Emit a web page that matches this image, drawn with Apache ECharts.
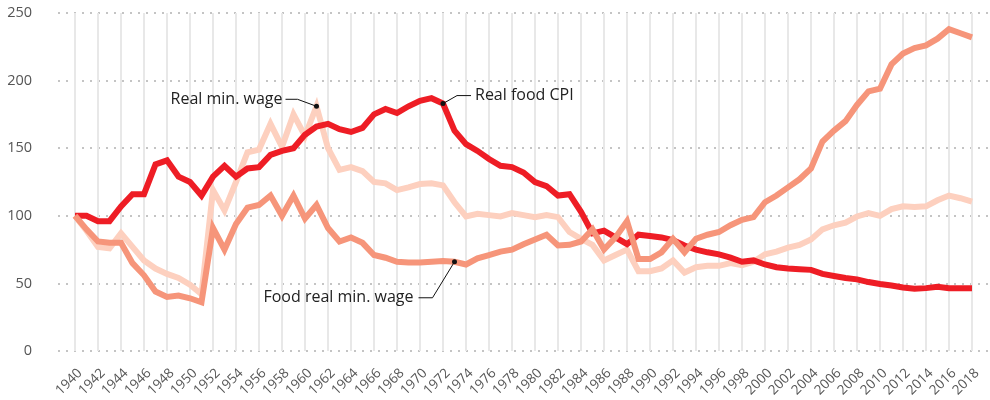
<!DOCTYPE html>
<html>
<head>
<meta charset="utf-8">
<script src="https://cdn.jsdelivr.net/npm/echarts@6/dist/echarts.min.js"></script>
<style>
  html, body { margin: 0; padding: 0; background: #fff; }
  #chart { width: 990px; height: 400px; }
</style>
</head>
<body>
<div id="chart"></div>
<script>
const firstYear = 1940;
const lastYear = 2018;

// values, one per year 1940..2018
const realFoodCpi = [
  100, 100, 96, 96, 107, 116, 116, 138, 141, 129,
  125, 115, 129, 137, 129, 135, 136, 145, 148, 150,
  160, 166, 168, 164, 162, 165, 175, 179, 176, 181,
  185, 187, 183, 163, 153, 148, 142, 137, 136, 132,
  125, 122, 115, 116, 103, 87, 89, 84, 79, 86,
  85, 84, 82, 78, 75, 73, 71.5, 69, 66, 67,
  64, 62, 61, 60.5, 60, 57, 55.5, 54, 53, 51,
  49.5, 48.5, 47, 46, 46.5, 47.5, 46.5, 46.5, 46.5
];
const foodMinWage = [
  100, 90, 81, 80, 80, 65, 56, 44, 40, 41,
  39, 36, 91, 75, 94, 106, 108, 115, 100, 115,
  98, 108, 91, 81, 84, 80, 71, 69, 66, 65.5,
  65.5, 66, 66.5, 66, 64, 68.5, 71, 73.5, 75, 79,
  82.5, 86, 78, 78.5, 81, 90, 75, 84, 96, 68,
  68, 73, 83, 73, 83, 86, 88, 93, 97, 99,
  110, 115, 121, 127, 135, 155, 163, 170, 182, 192,
  194, 212, 220, 224, 226, 231, 238, 235, 232
];
const realMinWage = [
  100, 89, 77, 76, 87, 77, 67, 61, 57, 54,
  49, 42, 119, 104, 125, 147, 149, 168, 151, 175,
  159, 181, 150, 134, 136, 133, 125, 124, 119, 121,
  123.5, 124, 122.5, 110, 99.5, 101.5, 100.5, 99.5, 102, 100.5,
  99, 100.5, 99, 88, 83, 78.5, 67, 71, 75, 59,
  59, 61, 67, 58, 62, 63, 63, 65, 63.5, 66,
  71.5, 73.5, 76.5, 78.5, 82.5, 90, 93, 95, 99.5, 102,
  100, 105, 107, 106.5, 107, 111.5, 115, 113, 110.5
];

const years = [];
for (let y = firstYear; y <= lastYear; y++) years.push(y);
const pairs = (vals) => vals.map((v, i) => [years[i], v]);

const chart = echarts.init(document.getElementById("chart"));

const lineSeries = (name, vals, color) => ({
  name,
  type: "line",
  xAxisIndex: 1,
  yAxisIndex: 1,
  data: pairs(vals),
  symbol: "none",
  lineStyle: { width: 6, color, join: "miter", miterLimit: 4 },
  emphasis: { disabled: true },
});

const option = {
  animation: false,
  grid: [
    { left: 58, right: 2, top: 13, bottom: 49 },
    { left: 75, right: 18, top: 13, bottom: 49 },
  ],
  xAxis: [
    { gridIndex: 0, type: "value", min: 1938.5, max: 2019.5, show: false },
    {
      gridIndex: 1,
      type: "value",
      min: firstYear,
      max: lastYear,
      interval: 2,
      axisLine: { show: false },
      axisTick: { show: false },
      splitLine: { show: true, lineStyle: { color: "#e8e8e8", width: 2 } },
      axisLabel: {
        rotate: 45,
        margin: 15,
        align: "right",
        verticalAlign: "top",
        fontSize: 13.5,
        fontFamily: "Open Sans",
        color: "#555",
        formatter: (v) => String(v),
      },
    },
  ],
  yAxis: [
    {
      gridIndex: 0,
      type: "value",
      min: 0,
      max: 250,
      interval: 50,
      axisLine: { show: false },
      axisTick: { show: false },
      axisLabel: { margin: 26, fontSize: 14.5, fontFamily: "Open Sans", color: "#555" },
      splitLine: { lineStyle: { type: [2, 6], color: "#c4c4c4", width: 2 } },
    },
    { gridIndex: 1, type: "value", min: 0, max: 250, interval: 50, show: false },
  ],
  series: [
    lineSeries("Real min. wage", realMinWage, "#fdd0bf"),
    lineSeries("Real food CPI", realFoodCpi, "#ee1d25"),
    lineSeries("Food real min. wage", foodMinWage, "#f6957a"),
  ],
};

chart.setOption(option);

// annotations hang off the data points they label
const at = (seriesIndex, year, vals) =>
  chart.convertToPixel({ seriesIndex }, [year, vals[year - firstYear]]);

const textStyle = { fontSize: 16, fontFamily: "Open Sans", fill: "#222" };
const leader = (p, pts) => ({
  type: "polyline",
  shape: { points: [p].concat(pts.map((d) => [p[0] + d[0], p[1] + d[1]])) },
  style: { stroke: "#111", lineWidth: 1, fill: null },
  z: 10,
});
const dot = (p) => ({
  type: "circle",
  shape: { cx: p[0], cy: p[1], r: 2.5 },
  style: { fill: "#111" },
  z: 11,
});
const label = (p, dx, dy, text, align) => ({
  type: "text",
  x: p[0] + dx,
  y: p[1] + dy,
  style: Object.assign({ text, align, verticalAlign: "middle" }, textStyle),
  z: 11,
});

const pWage = at(0, 1961, realMinWage);
const pCpi = at(1, 1972, realFoodCpi);
const pFood = at(2, 1973, foodMinWage);

chart.setOption({
  graphic: [
    leader(pWage, [[-19, -7], [-31, -7]]),
    dot(pWage),
    label(pWage, -34, -7, "Real min. wage", "right"),
    leader(pCpi, [[14, -8], [28, -8]]),
    dot(pCpi),
    label(pCpi, 32, -8, "Real food CPI", "left"),
    leader(pFood, [[-22, 36], [-36, 36]]),
    dot(pFood),
    label(pFood, -41, 36, "Food real min. wage", "right"),
  ],
});
</script>
</body>
</html>
